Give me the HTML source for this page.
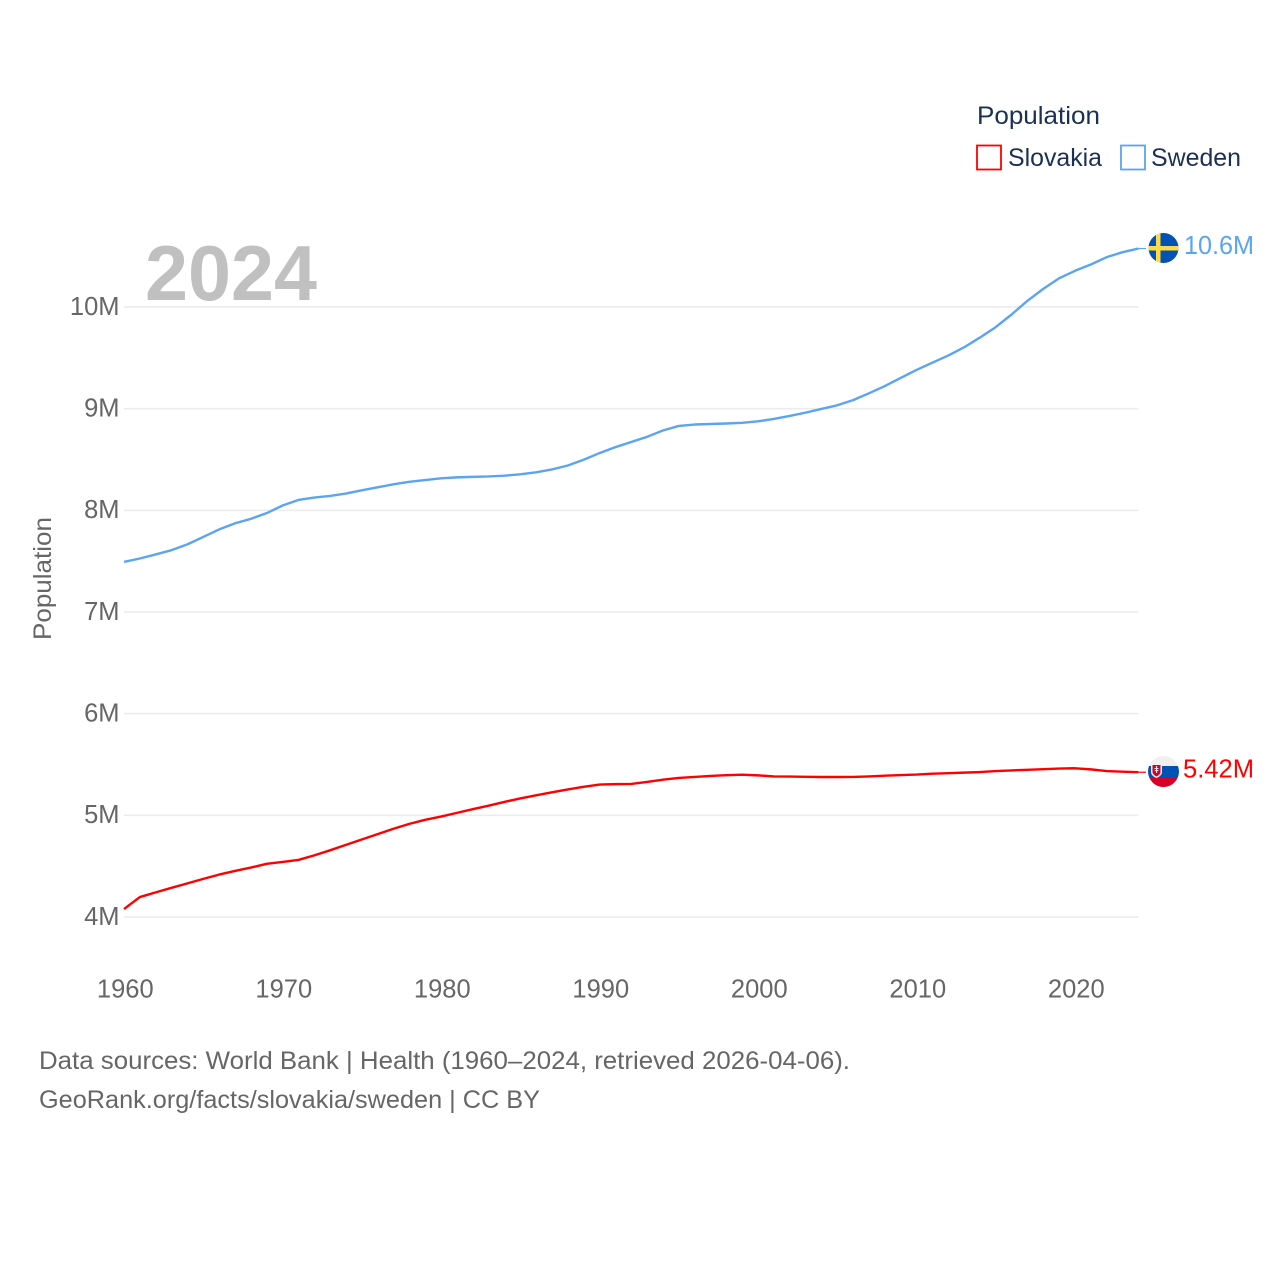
<!DOCTYPE html>
<html lang="en">
<head>
<meta charset="utf-8">
<title>Population: Slovakia and Sweden</title>
<style>
html,body{margin:0;padding:0;background:#fff;width:1280px;height:1280px;overflow:hidden}
svg{display:block}
text{font-family:"Liberation Sans",sans-serif}
.tick{font-size:25.5px;fill:#666}
.foot{font-size:25px;fill:#666}
.leg{font-size:25px;fill:#1b3054}
</style>
</head>
<body>
<svg id="chart" width="1280" height="1280" viewBox="0 0 1280 1280" xmlns="http://www.w3.org/2000/svg">
  <defs>
    <clipPath id="clip-se"><circle cx="1163.5" cy="248" r="15"/></clipPath>
    <clipPath id="clip-sk"><circle cx="1163.5" cy="771.5" r="15.5"/></clipPath>
  </defs>
  <rect width="1280" height="1280" fill="#fff"/>
  <g id="grid"></g>
  <g id="yticks"></g>
  <g id="xticks"></g>
  <text x="145" y="300" font-size="78" font-weight="700" fill="#c0c0c0" textLength="172" lengthAdjust="spacingAndGlyphs">2024</text>
  <text transform="translate(51,640) rotate(-90)" font-size="25" fill="#666" textLength="123" lengthAdjust="spacingAndGlyphs">Population</text>
  <g id="series"></g>

  <g>
    <text class="leg" x="977" y="124" textLength="123" lengthAdjust="spacingAndGlyphs">Population</text>
    <rect x="977" y="145.500" width="24" height="24" fill="none" stroke="#ff0000" stroke-width="1.800"/>
    <text class="leg" x="1008" y="166" textLength="94" lengthAdjust="spacingAndGlyphs">Slovakia</text>
    <rect x="1121" y="145.500" width="24" height="24" fill="none" stroke="#5ba4f0" stroke-width="1.800"/>
    <text class="leg" x="1151" y="166" textLength="90" lengthAdjust="spacingAndGlyphs">Sweden</text>
  </g>

  <g clip-path="url(#clip-se)">
    <rect x="1148" y="232" width="32" height="32" fill="#0052b4"/>
    <rect x="1156" y="232" width="4.500" height="32" fill="#ffda44"/>
    <rect x="1148" y="246" width="32" height="4.500" fill="#ffda44"/>
  </g>
  <g clip-path="url(#clip-sk)">
    <rect x="1147" y="755" width="33" height="12" fill="#f0f0f0"/>
    <rect x="1147" y="766" width="33" height="11" fill="#0052b4"/>
    <rect x="1147" y="777" width="33" height="11" fill="#d80027"/>
    <path d="M1151 763.500h11v8.500c0 3-3 5-5.500 6c-2.500-1-5.500-3-5.500-6z" fill="#f0f0f0"/>
    <path d="M1152.500 765h8v7c0 2-2 3.500-4 4.500c-2-1-4-2.500-4-4.500z" fill="#d80027"/>
    <rect x="1156" y="766" width="1.100" height="7" fill="#f0f0f0"/>
    <rect x="1154.500" y="768" width="4" height="1" fill="#f0f0f0"/>
    <rect x="1154.800" y="770" width="3.500" height="1" fill="#f0f0f0"/>
  </g>
  <text x="1184" y="254" font-size="25.500" fill="#5ba4f0" textLength="70" lengthAdjust="spacingAndGlyphs">10.6M</text>
  <text x="1183" y="777.500" font-size="25.500" fill="#ff0000" textLength="71" lengthAdjust="spacingAndGlyphs">5.42M</text>

  <text class="foot" x="39" y="1069" textLength="811" lengthAdjust="spacingAndGlyphs">Data sources: World Bank | Health (1960–2024, retrieved 2026-04-06).</text>
  <text class="foot" x="39" y="1108" textLength="501" lengthAdjust="spacingAndGlyphs">GeoRank.org/facts/slovakia/sweden | CC BY</text>
</svg>
<script>
const years = [1960,1961,1962,1963,1964,1965,1966,1967,1968,1969,1970,1971,1972,1973,1974,1975,1976,1977,1978,1979,1980,1981,1982,1983,1984,1985,1986,1987,1988,1989,1990,1991,1992,1993,1994,1995,1996,1997,1998,1999,2000,2001,2002,2003,2004,2005,2006,2007,2008,2009,2010,2011,2012,2013,2014,2015,2016,2017,2018,2019,2020,2021,2022,2023,2024];
const swedenValues = [7.493,7.526,7.566,7.608,7.665,7.738,7.812,7.872,7.916,7.972,8.047,8.102,8.126,8.141,8.165,8.197,8.226,8.256,8.280,8.298,8.315,8.324,8.329,8.333,8.341,8.354,8.374,8.402,8.441,8.497,8.563,8.621,8.672,8.723,8.785,8.830,8.844,8.849,8.854,8.861,8.875,8.899,8.928,8.961,8.997,9.033,9.084,9.151,9.222,9.302,9.381,9.452,9.522,9.603,9.699,9.802,9.926,10.061,10.178,10.282,10.356,10.418,10.490,10.539,10.575];
const slovakiaValues = [4.078,4.196,4.242,4.287,4.331,4.375,4.417,4.453,4.486,4.523,4.542,4.561,4.606,4.656,4.709,4.762,4.815,4.868,4.916,4.956,4.988,5.024,5.060,5.095,5.132,5.166,5.197,5.226,5.255,5.280,5.303,5.307,5.309,5.329,5.351,5.368,5.378,5.387,5.395,5.400,5.393,5.383,5.381,5.379,5.377,5.377,5.378,5.383,5.390,5.396,5.401,5.410,5.415,5.420,5.426,5.435,5.442,5.448,5.454,5.460,5.463,5.452,5.435,5.429,5.424];
const yTickValues = [4,5,6,7,8,9,10];
const yTickLabels = ["4M","5M","6M","7M","8M","9M","10M"];
const xTickValues = [1960,1970,1980,1990,2000,2010,2020];
const xTickLabels = ["1960","1970","1980","1990","2000","2010","2020"];

const SVG_NS = "http://www.w3.org/2000/svg";
function xScale(year){ return 124 + (year - 1960) * 15.85; }
function yScale(v){ return 917 - (v - 4) * 101.67; }

const grid = document.getElementById("grid");
const yticks = document.getElementById("yticks");
const xticks = document.getElementById("xticks");
const series = document.getElementById("series");

yTickValues.forEach(function(v, i){
  const line = document.createElementNS(SVG_NS, "line");
  
  
  line.setAttribute("x1", xScale(1960));
  line.setAttribute("x2", xScale(2024));
  line.setAttribute("y1", yScale(v));
  line.setAttribute("y2", yScale(v));
  line.setAttribute("stroke", "#ececec");
  line.setAttribute("stroke-width", "1.600");
  grid.appendChild(line);

  const t = document.createElementNS(SVG_NS, "text");
  
  
  t.setAttribute("class", "tick");
  t.setAttribute("x", 119.500);
  t.setAttribute("y", yScale(v) + 7.800);
  t.setAttribute("text-anchor", "end");
  t.textContent = yTickLabels[i];
  yticks.appendChild(t);
});

xTickValues.forEach(function(v, i){
  const t = document.createElementNS(SVG_NS, "text");
  
  
  t.setAttribute("class", "tick");
  t.setAttribute("x", xScale(v) + 1.300);
  t.setAttribute("y", 997.500);
  t.setAttribute("text-anchor", "middle");
  t.textContent = xTickLabels[i];
  xticks.appendChild(t);
});

function drawSeries(values, color, name){
  const pts = values.map(function(v, i){
    return xScale(years[i]).toFixed(2) + "," + yScale(v).toFixed(2);
  });
  const p = document.createElementNS(SVG_NS, "polyline");
  
  
  p.setAttribute("points", pts.join(" "));
  p.setAttribute("fill", "none");
  p.setAttribute("stroke", color);
  p.setAttribute("stroke-width", "2.400");
  p.setAttribute("stroke-linejoin", "round");
  series.appendChild(p);

  const last = values[values.length - 1];
  const c = document.createElementNS(SVG_NS, "line");
  
  
  c.setAttribute("x1", xScale(years[years.length - 1]));
  c.setAttribute("x2", 1146);
  c.setAttribute("y1", yScale(last));
  c.setAttribute("y2", yScale(last));
  c.setAttribute("stroke", color);
  c.setAttribute("stroke-width", "1.200");
  series.appendChild(c);
}
drawSeries(swedenValues, "#5ba4f0", "sweden");
drawSeries(slovakiaValues, "#ff0000", "slovakia");
</script>
</body>
</html>
